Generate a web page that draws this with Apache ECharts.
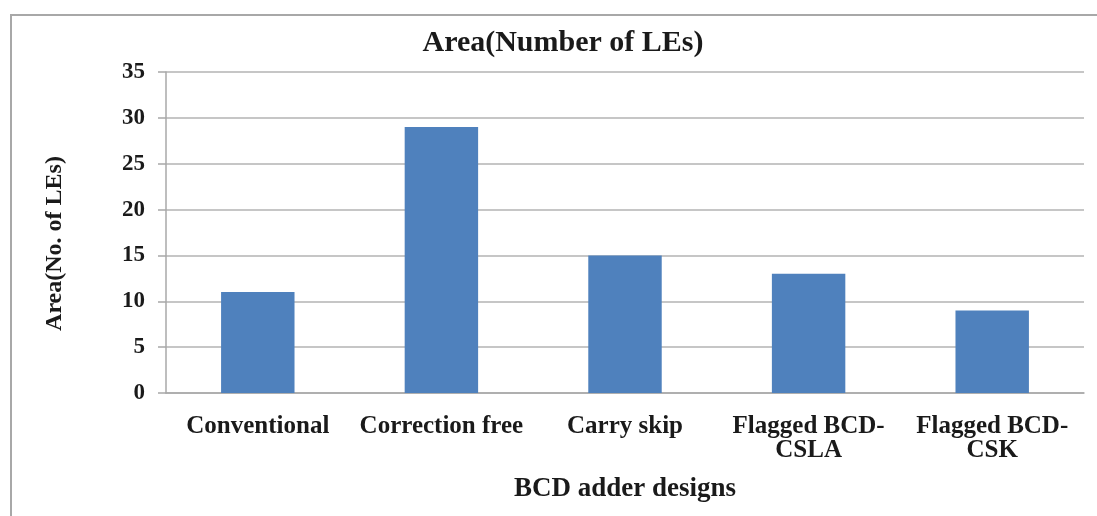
<!DOCTYPE html>
<html>
<head>
<meta charset="utf-8">
<script src="https://cdn.jsdelivr.net/npm/echarts@6/dist/echarts.min.js"></script>
<style>
html,body{margin:0;padding:0;background:#fff;}
#c{width:1097px;height:516px;}
</style>
</head>
<body>
<div id="c"></div>
<script>
const categories = ['Conventional', 'Correction free', 'Carry skip', 'Flagged BCD-\nCSLA', 'Flagged BCD-\nCSK'];
const areaValues = [11, 29, 15, 13, 9];
const yTicks = [0, 5, 10, 15, 20, 25, 30, 35];

const FONT = '"Liberation Serif", "Times New Roman", serif';
const chart = echarts.init(document.getElementById('c'));
chart.setOption({
  backgroundColor: '#ffffff',
  animation: false,
  title: {
    text: 'Area(Number of LEs)',
    left: 558, top: 23, textAlign: 'center',
    textStyle: { fontFamily: FONT, fontWeight: 'bold', fontSize: 30, color: '#1a1a1a' }
  },
  graphic: [{
    type: 'rect', shape: { x: 11, y: 15, width: 1100, height: 600 },
    style: { fill: 'none', stroke: '#a8a8a8', lineWidth: 2 }, silent: true
  }],
  grid: { left: 166, right: 13, top: 72, bottom: 123 },
  xAxis: {
    type: 'category',
    data: categories,
    name: 'BCD adder designs',
    nameLocation: 'middle',
    nameGap: 83,
    nameTextStyle: { fontFamily: FONT, fontWeight: 'bold', fontSize: 27, color: '#1a1a1a' },
    axisLine: { show: true, lineStyle: { color: '#a8a8a8', width: 1.5 } },
    axisTick: { show: false },
    axisLabel: { interval: 0, margin: 22, fontFamily: FONT, fontWeight: 'bold', fontSize: 25, lineHeight: 24, color: '#1a1a1a', align: 'center' }
  },
  yAxis: {
    type: 'value',
    min: 0, max: 35, interval: 5,
    name: 'Area(No. of LEs)',
    nameLocation: 'middle',
    nameGap: 99,
    nameTextStyle: { fontFamily: FONT, fontWeight: 'bold', fontSize: 24, color: '#1a1a1a', padding: [0, 22, 0, 0] },
    axisLine: { show: true, lineStyle: { color: '#a8a8a8', width: 1.5 } },
    axisTick: { show: true, inside: false, length: 8, lineStyle: { color: '#a8a8a8', width: 1.5 } },
    axisLabel: { margin: 21, fontFamily: FONT, fontWeight: 'bold', fontSize: 23, color: '#1a1a1a',
      formatter: v => yTicks.includes(v) ? String(v) : '' },
    splitLine: { show: true, lineStyle: { color: '#b3b3b3', width: 1.5 } }
  },
  series: [{
    type: 'bar',
    data: areaValues,
    barWidth: '40%',
    itemStyle: { color: '#4f81bd' }
  }]
});
</script>
</body>
</html>
